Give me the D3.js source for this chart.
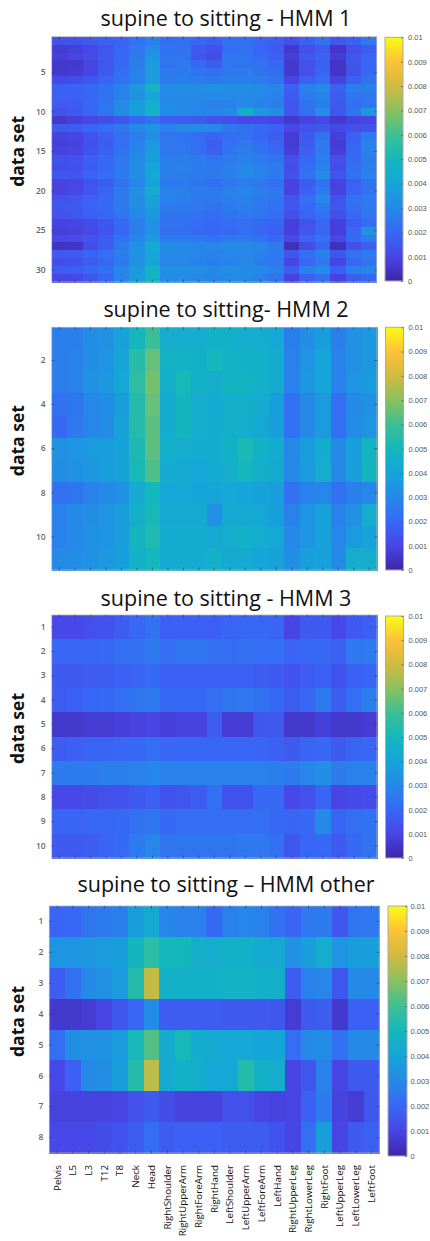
<!DOCTYPE html>
<html>
<head>
<meta charset="utf-8">
<title>supine to sitting - HMM</title>
<script src="https://cdn.jsdelivr.net/npm/d3@7"></script>
<style>
  body { margin: 0; background: #fff; }
  svg text { font-family: "Open Sans", sans-serif; }
</style>
</head>
<body>
<svg id="chart" width="430" height="1241"></svg>
<script>
// joints on the x axis
var joints = ["Pelvis", "L5", "L3", "T12", "T8", "Neck", "Head", "RightShoulder", "RightUpperArm",
  "RightForeArm", "RightHand", "LeftShoulder", "LeftUpperArm", "LeftForeArm", "LeftHand",
  "RightUpperLeg", "RightLowerLeg", "RightFoot", "LeftUpperLeg", "LeftLowerLeg", "LeftFoot"];

// values, in units of 0.001
var hmm1 = [
  [1.3,1.4,1.6,1.8,1.9,2.3,2.8,2.2,2.3,2.0,1.8,2.2,2.3,2.0,1.8,1.3,1.8,2.3,1.5,1.8,2.5],
  [0.7,0.8,1.1,1.5,1.9,2.5,3.2,2.3,2.3,1.6,1.4,2.2,2.3,1.9,1.6,0.6,1.3,1.7,0.5,1.3,1.7],
  [0.8,1.0,1.2,1.6,2.0,2.6,3.4,2.4,2.4,1.5,1.2,2.4,2.4,2.1,1.8,0.8,1.5,1.9,0.7,1.5,1.9],
  [0.6,0.6,1.0,1.5,2.1,2.7,3.6,2.4,2.5,2.0,1.7,2.4,2.4,2.3,2.0,0.6,1.3,1.8,0.5,1.5,2.0],
  [0.6,0.7,1.0,1.6,2.2,2.8,3.7,2.6,2.6,2.4,2.2,2.5,2.6,2.4,2.2,0.6,1.3,1.9,0.5,1.4,2.0],
  [1.1,1.2,1.5,1.9,2.3,2.8,3.6,2.6,2.7,2.6,2.5,2.7,2.7,2.6,2.4,1.0,1.8,2.2,0.9,1.8,2.3],
  [1.8,1.9,2.1,2.3,2.8,3.5,4.7,3.1,3.2,3.2,3.3,3.2,3.2,3.1,2.9,1.8,2.8,3.0,1.8,2.7,2.8],
  [1.8,1.8,2.0,2.3,2.8,3.3,4.0,3.0,3.0,3.0,3.0,3.0,3.0,2.9,2.8,1.7,2.6,2.8,1.7,2.4,2.5],
  [1.6,1.7,2.0,2.4,3.0,3.8,4.5,3.0,3.0,2.9,2.8,2.8,3.0,2.8,2.7,1.5,2.3,2.7,1.6,2.2,2.4],
  [1.4,1.6,2.0,2.4,3.1,3.8,4.8,3.1,3.0,2.9,2.9,3.0,4.5,3.5,3.2,1.5,2.3,3.2,1.5,2.4,3.5],
  [0.6,0.8,1.0,1.2,1.5,1.9,2.3,1.7,1.6,1.6,1.4,1.3,1.1,1.1,1.0,0.6,0.9,1.1,0.6,0.9,1.0],
  [1.6,1.7,2.0,2.2,2.5,3.0,3.4,2.8,3.0,3.1,3.0,2.5,2.3,2.1,1.8,1.1,1.4,1.5,1.1,1.3,1.4],
  [0.9,1.0,1.4,1.8,2.2,2.7,3.2,2.4,2.4,2.2,1.9,2.2,2.3,2.0,1.7,0.7,1.6,2.4,0.8,1.8,2.6],
  [0.8,0.9,1.3,1.7,2.2,2.8,3.6,2.5,2.4,2.2,1.7,2.3,2.5,2.2,1.9,0.7,1.7,2.6,0.7,1.9,2.8],
  [0.9,1.0,1.4,1.8,2.3,2.9,3.8,2.5,2.5,2.2,1.8,2.4,2.7,2.4,2.1,0.8,1.8,2.6,0.8,2.0,2.8],
  [1.4,1.4,1.8,2.1,2.5,3.0,3.8,2.7,2.7,2.6,2.4,2.6,2.8,2.6,2.4,1.3,2.0,2.7,1.3,2.1,2.6],
  [1.2,1.3,1.7,2.0,2.5,3.1,4.0,2.7,2.8,2.6,2.5,2.7,3.0,2.8,2.6,1.2,2.2,2.8,1.2,2.2,2.7],
  [1.5,1.5,1.9,2.2,2.6,3.1,4.1,2.7,2.7,2.6,2.6,2.7,2.9,2.8,2.6,1.4,2.3,3.2,1.5,2.3,2.8],
  [0.9,1.0,1.4,1.7,2.3,2.9,3.9,2.6,2.6,2.4,2.2,2.5,2.7,2.5,2.2,0.9,1.7,2.3,0.9,1.8,2.3],
  [0.9,1.1,1.5,1.9,2.6,3.3,4.4,2.8,2.7,2.6,2.6,2.8,2.9,2.7,2.5,0.9,1.8,2.6,0.9,1.9,2.4],
  [1.4,1.5,1.8,2.1,2.6,3.2,3.9,2.8,2.7,2.5,2.5,2.7,2.8,2.6,2.4,1.5,2.2,3.0,1.4,2.3,2.6],
  [1.5,1.6,1.9,2.1,2.5,3.1,3.7,2.6,2.6,2.5,2.3,2.6,2.7,2.5,2.3,1.5,2.1,2.5,1.5,2.2,2.5],
  [1.4,1.5,1.8,2.0,2.4,2.9,3.5,2.4,2.4,2.3,2.2,2.4,2.5,2.4,2.2,1.3,1.9,2.3,1.3,2.0,2.4],
  [0.9,1.0,1.2,1.5,2.1,2.7,3.3,2.3,2.3,2.2,2.1,2.2,2.2,2.1,1.9,0.8,1.4,1.9,0.8,1.7,2.2],
  [0.8,0.9,1.1,1.4,2.0,2.7,3.3,2.2,2.2,2.1,2.0,2.1,2.2,2.0,1.8,0.8,1.5,2.0,0.8,2.0,3.3],
  [1.1,1.2,1.4,1.7,2.3,2.9,3.6,2.6,2.6,2.5,2.3,2.5,2.5,2.4,2.1,1.1,1.9,2.4,1.1,2.1,2.6],
  [0.4,0.5,1.2,1.7,2.5,3.3,4.3,3.0,3.0,2.9,2.9,3.0,3.0,2.9,2.6,0.3,1.2,1.9,0.3,1.3,1.8],
  [1.6,1.6,1.9,2.2,2.7,3.3,4.1,3.0,3.0,2.9,2.8,2.9,2.9,2.8,2.6,1.5,2.3,2.7,1.5,2.3,2.6],
  [1.2,1.3,1.7,2.0,2.6,3.3,4.0,2.9,2.9,2.8,2.7,2.8,2.9,2.7,2.5,1.0,2.0,2.6,1.0,2.0,2.4],
  [1.7,1.8,2.0,2.3,2.9,3.6,4.7,3.2,3.2,3.2,3.0,3.1,3.1,3.0,2.8,1.7,2.8,3.0,1.8,2.7,2.9],
  [1.0,1.1,1.5,2.0,2.9,3.8,4.8,3.1,3.1,3.0,2.9,3.0,3.0,2.8,2.4,0.9,1.8,2.2,0.9,1.7,2.0]
];

var hmm2 = [
  [2.7,2.7,3.1,3.3,3.9,5.0,5.9,4.4,4.4,4.4,4.6,4.6,4.4,4.4,4.1,2.7,3.2,3.8,2.7,3.3,3.5],
  [2.7,2.8,3.2,3.4,4.0,5.5,6.5,4.7,4.7,4.6,5.0,4.7,4.6,4.6,4.3,2.8,3.4,4.0,2.8,3.3,3.5],
  [2.7,2.8,3.3,3.5,4.1,5.6,6.7,4.5,5.1,4.6,4.5,4.8,4.8,4.6,4.3,2.8,3.5,4.0,2.8,3.4,3.6],
  [2.3,2.4,2.9,3.1,3.8,5.4,6.5,4.3,4.9,4.4,4.3,4.5,4.5,4.3,3.8,2.3,3.0,3.6,2.2,3.0,3.3],
  [2.1,2.5,2.9,3.1,3.9,5.4,6.4,4.3,4.9,4.4,4.3,4.5,4.4,4.2,3.8,2.3,3.0,3.6,2.2,3.1,3.4],
  [3.3,3.4,3.6,3.7,3.9,5.2,6.4,4.5,4.4,4.3,4.3,4.6,5.2,4.6,4.3,3.0,3.7,4.3,3.0,3.8,4.8],
  [3.2,3.3,3.5,3.7,3.9,5.1,6.2,4.3,4.2,4.1,4.3,4.5,5.0,4.5,4.2,3.0,3.6,4.4,3.0,3.8,4.9],
  [2.3,2.4,2.8,3.0,3.3,4.3,5.0,4.1,4.1,4.0,4.0,4.1,4.0,3.9,3.8,2.3,2.8,2.9,2.3,2.7,2.9],
  [2.8,3.0,3.2,3.4,3.7,4.5,5.1,4.2,4.2,4.2,3.3,4.2,4.2,4.1,3.8,2.8,3.4,3.9,2.8,3.3,4.4],
  [2.8,3.0,3.3,3.4,3.7,4.9,5.3,4.3,4.3,4.3,4.2,4.4,4.6,4.4,4.1,3.0,3.4,3.9,2.9,3.6,3.9],
  [3.0,3.1,3.3,3.5,3.8,4.6,5.0,4.3,4.3,4.3,4.6,4.2,4.2,4.0,3.9,3.2,3.8,3.9,3.0,4.4,4.4]
];

var hmm3 = [
  [1.1,1.1,1.3,1.4,1.7,2.0,2.3,1.8,1.8,1.8,1.8,1.9,2.0,2.0,1.9,1.0,1.6,1.6,1.1,1.6,1.8],
  [2.0,2.0,2.0,2.1,2.2,2.3,2.6,2.2,2.4,2.4,2.3,2.2,2.3,2.2,2.2,1.9,2.0,2.1,1.8,2.5,2.6],
  [1.6,1.6,1.7,1.7,1.8,1.9,2.1,1.8,1.8,1.8,1.8,1.8,1.8,1.7,1.6,1.4,1.7,1.8,1.4,1.8,1.9],
  [1.7,1.8,2.0,2.1,2.2,2.4,2.6,2.1,2.1,2.1,2.2,2.4,2.5,2.3,2.1,1.7,2.0,2.6,1.7,2.2,2.7],
  [0.6,0.6,0.7,0.7,0.8,0.9,1.0,0.8,0.9,0.9,1.7,0.7,0.7,1.5,1.6,0.6,0.6,0.8,0.6,0.6,0.7],
  [1.7,1.8,1.9,1.9,2.0,2.1,2.2,2.0,2.0,2.0,2.0,2.0,2.0,1.9,1.8,1.6,1.9,2.0,1.6,1.9,2.0],
  [2.6,2.6,2.6,2.7,2.7,2.8,2.9,2.8,2.8,2.8,2.8,2.8,2.8,2.8,2.7,2.6,2.9,3.2,2.6,2.8,2.8],
  [1.1,1.1,1.2,1.3,1.4,1.6,1.8,1.4,1.5,1.7,2.3,1.4,1.4,2.1,2.1,1.1,1.4,1.9,1.0,1.1,1.2],
  [1.9,1.9,2.0,2.0,2.1,2.3,2.4,2.1,2.2,2.2,2.2,2.2,2.2,2.2,2.1,1.9,2.1,3.0,1.9,2.2,2.3],
  [1.6,1.6,1.7,1.9,2.1,2.6,2.9,2.4,2.4,2.4,2.4,2.4,2.5,2.5,2.3,1.5,2.0,2.1,1.6,2.1,2.4]
];

var hmmOther = [
  [1.9,2.0,2.4,2.6,2.7,3.8,4.2,2.9,2.8,2.8,2.1,2.8,2.9,2.8,2.3,1.9,2.5,2.6,1.5,2.4,2.5],
  [3.4,3.4,3.5,3.6,3.8,4.9,5.6,5.0,5.0,4.5,4.4,4.6,4.6,4.3,4.2,3.3,3.8,4.4,3.4,3.8,3.8],
  [1.7,2.3,3.0,3.3,3.6,5.4,7.8,4.6,4.6,4.6,4.6,4.7,4.7,4.6,4.5,1.7,2.8,2.9,1.5,3.0,3.0],
  [0.6,0.6,0.7,1.0,1.5,2.0,3.1,1.7,1.7,1.7,1.7,1.6,1.6,1.6,1.5,0.7,1.6,1.7,0.6,1.8,1.8],
  [2.2,3.2,3.3,3.3,3.6,5.1,6.3,4.3,5.1,4.3,4.2,4.1,4.1,4.0,4.0,2.2,3.0,3.1,2.3,3.0,3.0],
  [1.1,1.8,3.0,3.2,3.8,5.4,7.7,4.3,4.6,4.5,4.1,4.1,5.4,4.6,4.4,1.0,1.5,2.8,1.0,1.6,1.6],
  [0.9,0.9,0.9,0.9,1.0,1.3,1.6,1.2,0.9,0.9,0.9,1.3,1.3,1.0,0.9,1.0,1.8,2.6,0.9,0.7,1.5],
  [1.1,1.1,1.1,1.2,1.4,1.7,2.2,1.7,1.8,1.8,1.8,1.7,1.7,1.7,1.4,1.0,2.2,3.8,1.0,1.6,1.8]
];

var titles = ["supine to sitting - HMM 1", "supine to sitting- HMM 2",
  "supine to sitting - HMM 3", "supine to sitting \u2013 HMM other"];
var rowTicks = [[5, 10, 15, 20, 25, 30], [2, 4, 6, 8, 10], [1, 2, 3, 4, 5, 6, 7, 8, 9, 10], [1, 2, 3, 4, 5, 6, 7, 8]];
var cbTicks = [0, 0.001, 0.002, 0.003, 0.004, 0.005, 0.006, 0.007, 0.008, 0.009, 0.01];
var unit = 0.001;

// parula-like colormap over 0..0.01
var parula = ["#3e26a8", "#4746e5", "#3867f6", "#2589e8", "#15a5d8", "#14b7bc",
  "#3dbf95", "#8ac05f", "#d0ba40", "#fbc238", "#f9fb15"];
var color = d3.scaleLinear()
  .domain(parula.map(function(c, i) { return i * 0.001; }))
  .range(parula)
  .interpolate(d3.interpolateRgb)
  .clamp(true);

// layout of each panel (plot box, colorbar box, title baseline)
var layout = [
  { x0: 51.7, x1: 376.7, y0: 36.7, y1: 282,  ty: 26,  cx: 385, cw: 18, cy0: 37.3, cy1: 281, lx: 5 },
  { x0: 51.7, x1: 377,   y0: 327.3, y1: 570, ty: 317, cx: 385.5, cw: 18, cy0: 327.3, cy1: 570, lx: 5 },
  { x0: 51.7, x1: 377,   y0: 615, y1: 858,   ty: 605.5, cx: 385.5, cw: 18, cy0: 616, cy1: 858, lx: 5 },
  { x0: 49.3, x1: 379.3, y0: 906, y1: 1153,  ty: 892, cx: 388, cw: 19, cy0: 906, cy1: 1156, lx: 3.5 }
];

var data = [hmm1, hmm2, hmm3, hmmOther];
var svg = d3.select("#chart");

// colorbar gradient
var grad = svg.append("defs").append("linearGradient")
  .attr("id", "cbgrad").attr("x1", 0).attr("y1", 1).attr("x2", 0).attr("y2", 0);
d3.range(0, 41).forEach(function(i) {
  grad.append("stop").attr("offset", i / 40).attr("stop-color", color(i / 40 * 0.01));
});

data.forEach(function(rows, p) {
  var L = layout[p];
  var g = svg.append("g");
  var rowIds = d3.range(1, rows.length + 1);

  var x = d3.scaleBand().domain(joints).range([L.x0, L.x1]);
  var y = d3.scaleBand().domain(rowIds).range([L.y0, L.y1]);

  var cells = [];
  rows.forEach(function(r, i) {
    r.forEach(function(v, j) { cells.push({ row: i + 1, joint: joints[j], v: v * unit }); });
  });

  g.append("g").selectAll("rect").data(cells).enter().append("rect")
    .attr("x", function(d) { return x(d.joint); })
    .attr("y", function(d) { return y(d.row); })
    .attr("width", x.bandwidth() + 0.5)
    .attr("height", y.bandwidth() + 0.5)
    .attr("fill", function(d) { return color(d.v); })
    .attr("shape-rendering", "crispEdges");

  // box
  g.append("rect")
    .attr("x", L.x0).attr("y", L.y0)
    .attr("width", L.x1 - L.x0).attr("height", L.y1 - L.y0)
    .attr("fill", "none").attr("stroke", "#b5b5b5").attr("stroke-width", 0.8);

  // inward ticks, MATLAB style
  var tk = 2.5;
  g.append("g").attr("transform", "translate(0," + L.y0 + ")")
    .call(d3.axisTop(x).tickSize(-tk).tickFormat(""));
  g.append("g").attr("transform", "translate(0," + L.y1 + ")")
    .call(d3.axisBottom(x).tickSize(-tk).tickFormat(""));
  g.append("g").attr("transform", "translate(" + L.x1 + ",0)")
    .call(d3.axisRight(y).tickValues(rowTicks[p]).tickSize(-tk).tickFormat(""));
  g.append("g").attr("class", "yl").attr("transform", "translate(" + L.x0 + ",0)")
    .call(d3.axisLeft(y).tickValues(rowTicks[p]).tickSize(-tk).tickPadding(6));

  g.selectAll(".domain").remove();
  g.selectAll(".tick line").attr("stroke", "#444").attr("stroke-width", 0.8);
  g.selectAll(".yl text").attr("fill", "#666").style("font-size", "8.5px").style("font-weight", "600");

  // title
  g.append("text")
    .attr("x", 226).attr("y", L.ty)
    .attr("text-anchor", "middle")
    .style("font-size", "21.5px")
    .attr("fill", "#111")
    .text(titles[p]);

  // y label
  g.append("text")
    .attr("transform", "translate(24," + ((L.y0 + L.y1) / 2 - 8) + ") rotate(-90)")
    .attr("text-anchor", "middle")
    .style("font-size", "17.5px").style("font-weight", "bold")
    .attr("fill", "#111")
    .text("data set");

  // colorbar
  var cb = d3.scaleLinear().domain([0, 0.01]).range([L.cy1, L.cy0]);
  g.append("rect")
    .attr("x", L.cx).attr("y", L.cy0)
    .attr("width", L.cw).attr("height", L.cy1 - L.cy0)
    .attr("fill", "url(#cbgrad)")
    .attr("stroke", "#aaa").attr("stroke-width", 1);
  var cba = g.append("g").attr("transform", "translate(" + (L.cx + L.cw) + ",0)")
    .call(d3.axisRight(cb).tickValues(cbTicks).tickSize(-2).tickPadding(L.lx).tickFormat(d3.format("~g")));
  cba.select(".domain").remove();
  cba.selectAll(".tick line").attr("stroke", "#555").attr("stroke-width", 0.7);
  cba.selectAll("text").attr("fill", "#555")
    .style("font-family", "'Liberation Sans', Arial, sans-serif").style("font-size", "7.5px");

  // joint names under the last panel
  if (p === data.length - 1) {
    g.append("g").selectAll("text").data(joints).enter().append("text")
      .attr("transform", function(d) {
        return "translate(" + (x(d) + x.bandwidth() / 2) + ",1165) rotate(-90)";
      })
      .attr("dy", "0.35em")
      .attr("text-anchor", "end")
      .style("font-size", "9.8px")
      .attr("fill", "#111")
      .text(function(d) { return d; });
  }
});
</script>
</body>
</html>
